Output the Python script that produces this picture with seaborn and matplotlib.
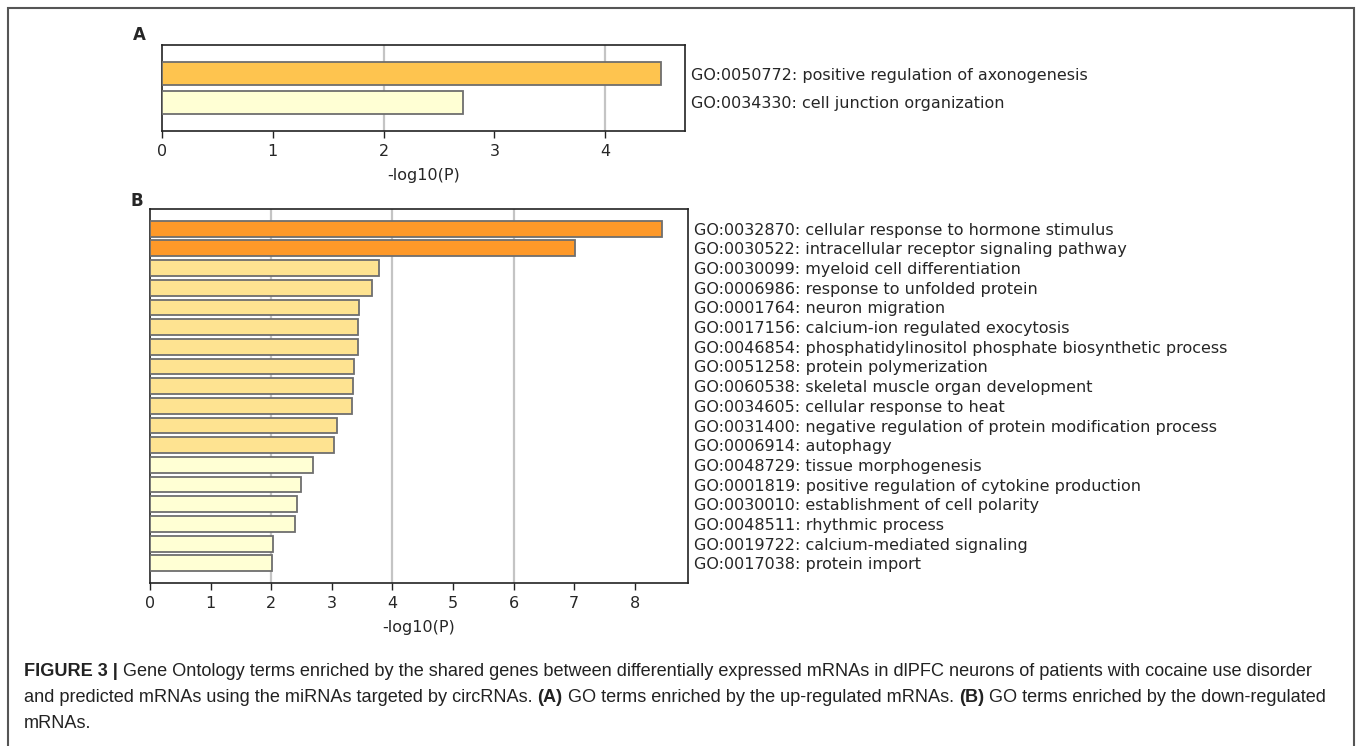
import matplotlib
matplotlib.use("Agg")
import matplotlib.pyplot as plt
import seaborn as sns
from matplotlib.patches import Rectangle
from matplotlib.ticker import MultipleLocator, FixedLocator

# Panel A: up-regulated mRNAs
terms_a = [
    "GO:0050772: positive regulation of axonogenesis",
    "GO:0034330: cell junction organization",
]
logp_a = [4.50, 2.72]
colors_a = ["#FEC44F", "#FFFFD4"]

# Panel B: down-regulated mRNAs
terms_b = [
    "GO:0032870: cellular response to hormone stimulus",
    "GO:0030522: intracellular receptor signaling pathway",
    "GO:0030099: myeloid cell differentiation",
    "GO:0006986: response to unfolded protein",
    "GO:0001764: neuron migration",
    "GO:0017156: calcium-ion regulated exocytosis",
    "GO:0046854: phosphatidylinositol phosphate biosynthetic process",
    "GO:0051258: protein polymerization",
    "GO:0060538: skeletal muscle organ development",
    "GO:0034605: cellular response to heat",
    "GO:0031400: negative regulation of protein modification process",
    "GO:0006914: autophagy",
    "GO:0048729: tissue morphogenesis",
    "GO:0001819: positive regulation of cytokine production",
    "GO:0030010: establishment of cell polarity",
    "GO:0048511: rhythmic process",
    "GO:0019722: calcium-mediated signaling",
    "GO:0017038: protein import",
]
logp_b = [8.45, 7.01, 3.78, 3.67, 3.45, 3.44, 3.44, 3.36, 3.35, 3.33,
          3.08, 3.04, 2.69, 2.49, 2.43, 2.40, 2.03, 2.01]
colors_b = ["#FE9929"] * 2 + ["#FEE391"] * 10 + ["#FFFFD4"] * 6

sns.set_style("white")
plt.rcParams["font.family"] = ["DejaVu Sans"]

fig = plt.figure(figsize=(13.58, 7.46), dpi=100)

# outer frame of the figure page
fig.patches.append(Rectangle((0.006, -0.02), 0.991, 1.009, transform=fig.transFigure,
                             fill=False, edgecolor="#555555", linewidth=1.5))


def draw_panel(ax, terms, vals, colors, xmax, grid_at):
    sns.barplot(x=vals, y=terms, hue=terms, palette=colors, orient="h",
                saturation=1, edgecolor="#6e6e6e", linewidth=1.3, width=0.8,
                legend=False, ax=ax, zorder=3)
    ax.set_xlim(0, xmax)
    ax.set_ylim(len(terms), -1)
    ax.xaxis.set_major_locator(MultipleLocator(1))
    ax.xaxis.set_minor_locator(FixedLocator(grid_at))
    ax.xaxis.remove_overlapping_locs = False
    ax.grid(which="minor", axis="x", color="#c4c4c4", linewidth=1.6, zorder=0)
    ax.grid(which="major", visible=False)
    ax.tick_params(axis="x", which="minor", length=0)
    ax.tick_params(axis="x", which="major", direction="out", length=5, width=1,
                   color="#222222", labelsize=11.5, pad=4, bottom=True)
    ax.yaxis.tick_right()
    ax.tick_params(axis="y", length=0, labelsize=11.5, pad=4)
    ax.set_ylabel("")
    ax.set_xlabel("-log10(P)", fontsize=11.5, labelpad=6.5)
    for s in ax.spines.values():
        s.set_visible(True)
        s.set_color("#222222")
        s.set_linewidth(1.2)


ax_a = fig.add_axes([162 / 1358, 1 - 131 / 746, (685 - 162) / 1358, 86 / 746])
draw_panel(ax_a, terms_a, logp_a, colors_a, 4.72, [2, 4])

ax_b = fig.add_axes([150 / 1358, 1 - 583 / 746, (688 - 150) / 1358, 374 / 746])
draw_panel(ax_b, terms_b, logp_b, colors_b, 8.88, [2, 4, 6])

fig.text(133 / 1358, 1 - 35 / 746, "A", fontsize=12, fontweight="bold", va="center")
fig.text(130 / 1358, 1 - 201 / 746, "B", fontsize=12, fontweight="bold", va="center")

# caption with mixed bold / regular runs
cap_lines = [
    [("FIGURE 3 |", True), (" Gene Ontology terms enriched by the shared genes between differentially expressed mRNAs in dlPFC neurons of patients with cocaine use disorder", False)],
    [("and predicted mRNAs using the miRNAs targeted by circRNAs. ", False), ("(A)", True),
     (" GO terms enriched by the up-regulated mRNAs. ", False), ("(B)", True),
     (" GO terms enriched by the down-regulated", False)],
    [("mRNAs.", False)],
]
cap_y = [671, 698, 724]
renderer = fig.canvas.get_renderer()
for line, y in zip(cap_lines, cap_y):
    x = 24
    for txt, bold in line:
        t = fig.text(x / 1358, 1 - y / 746, txt, fontsize=13.1, va="center",
                     family=["Liberation Sans", "DejaVu Sans"],
                     fontweight="bold" if bold else "normal", color="#222222")
        bb = t.get_window_extent(renderer)
        x = bb.x1

fig.savefig("out.png", dpi=100)
